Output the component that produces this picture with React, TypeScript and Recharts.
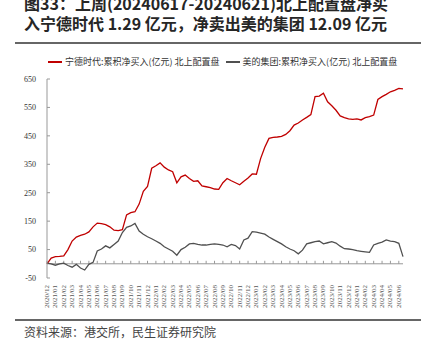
import { LineChart, Line, XAxis, YAxis, Legend, ReferenceLine } from "recharts";

// month tick labels on the x axis
const months = [
  "2020/12", "2021/01", "2021/02", "2021/03", "2021/04", "2021/05", "2021/06",
  "2021/07", "2021/08", "2021/09", "2021/10", "2021/11", "2021/12", "2022/01",
  "2022/02", "2022/03", "2022/04", "2022/05", "2022/06", "2022/07", "2022/08",
  "2022/09", "2022/10", "2022/11", "2022/12", "2023/01", "2023/02", "2023/03",
  "2023/04", "2023/05", "2023/06", "2023/07", "2023/08", "2023/09", "2023/10",
  "2023/11", "2023/12", "2024/01", "2024/02", "2024/03", "2024/04", "2024/05",
  "2024/06",
];

// half-month samples (亿元)
const catl = [
  0, 20, 25, 26, 28, 50, 80, 94, 100, 104,
  112, 130, 143, 141, 138, 130, 118, 117, 120, 172,
  180, 183, 210, 255, 272, 336, 345, 355, 340, 330,
  324, 285, 306, 312, 300, 290, 292, 274, 271, 268,
  263, 262, 285, 300, 292, 285, 278, 290, 302, 316,
  315, 370, 410, 441, 445, 446, 448, 455, 468, 488,
  495, 506, 515, 525, 588, 590, 600, 570, 556, 540,
  520, 514, 510, 508, 510, 506, 514, 518, 523, 578,
  588, 596, 605, 610, 617, 615,
];

const midea = [
  2, 0, -5, 0, 2, -6, -12, -2, -15, -22,
  -2, 5, 45, 52, 63, 56, 68, 80, 110, 128,
  133, 142, 115, 104, 95, 88, 80, 72, 60, 52,
  44, 30, 50, 58, 70, 72, 68, 66, 66, 68,
  70, 68, 66, 60, 68, 64, 52, 84, 90, 113,
  111, 108, 104, 94, 86, 78, 70, 60, 52, 46,
  35, 48, 70, 74, 78, 80, 70, 74, 78, 73,
  62, 53, 52, 50, 46, 44, 42, 40, 66, 72,
  76, 84, 80, 78, 72, 25,
];

const yTicks = [-50, 50, 150, 250, 350, 450, 550, 650];

const series = [
  { key: "catl", name: "宁德时代:累积净买入(亿元) 北上配置盘", color: "#C00000" },
  { key: "midea", name: "美的集团:累积净买入(亿元) 北上配置盘", color: "#505050" },
];

const data = catl.map((v, i) => ({ t: i / 2, catl: v, midea: midea[i] }));
const lastT = (catl.length - 1) / 2;

const cjk = '"Noto Sans CJK SC", sans-serif';
const serif = '"Liberation Serif", "DejaVu Serif", serif';

const MonthTick = ({ x, y, payload }: any) => (
  <text
    x={x}
    y={y}
    transform={`rotate(-90, ${x}, ${y})`}
    textAnchor="end"
    dominantBaseline="central"
    fontSize={7}
    fontFamily={serif}
    fill="#555"
  >
    {months[payload.value]}
  </text>
);

// zero line with small inward ticks at each month
const ZeroAxis = (props: any) => {
  const { x1, x2, y1 } = props;
  const step = (x2 - x1) / lastT;
  return (
    <g>
      <line x1={x1} x2={x2} y1={y1} y2={y1} stroke="#999" strokeWidth={1} />
      {months.map((m, i) => (
        <line
          key={m}
          x1={x1 + i * step}
          x2={x1 + i * step}
          y1={y1}
          y2={y1 - 3}
          stroke="#999"
          strokeWidth={1}
        />
      ))}
    </g>
  );
};

const renderLegend = () => (
  <div
    style={{
      display: "flex",
      alignItems: "center",
      fontSize: 9,
      fontFamily: cjk,
      color: "#333",
      whiteSpace: "nowrap",
    }}
  >
    {series.map((s) => (
      <span key={s.key} style={{ display: "flex", alignItems: "center", marginRight: 6 }}>
        <span
          style={{
            display: "inline-block",
            width: 14,
            height: 2,
            background: s.color,
            marginRight: 3,
          }}
        />
        {s.name}
      </span>
    ))}
  </div>
);

export default function App() {
  return (
    <div
      style={{
        position: "absolute",
        left: 0,
        top: 0,
        width: 426,
        height: 357,
        background: "#fff",
        overflow: "hidden",
      }}
    >
      <div
        style={{
          position: "absolute",
          left: 24,
          top: -7,
          fontFamily: cjk,
          fontWeight: 700,
          fontSize: 16,
          lineHeight: "20px",
          color: "#262626",
          whiteSpace: "nowrap",
        }}
      >
        <div>图33：上周(20240617-20240621)北上配置盘净买</div>
        <div>入宁德时代 1.29 亿元，净卖出美的集团 12.09 亿元</div>
      </div>
      <div style={{ position: "absolute", left: 15, top: 42, width: 406, height: 2, background: "#666" }} />

      <div style={{ position: "absolute", left: 0, top: 0 }}>
        <LineChart
          width={426}
          height={357}
          data={data}
          margin={{ top: 79, right: 23, bottom: 49, left: 17 }}
        >
          <XAxis
            dataKey="t"
            type="number"
            domain={[0, lastT]}
            ticks={months.map((_, i) => i)}
            interval={0}
            axisLine={false}
            tickLine={false}
            tickSize={0}
            tickMargin={7}
            height={30}
            tick={<MonthTick />}
          />
          <YAxis
            domain={[-50, 650]}
            ticks={yTicks}
            interval={0}
            width={30}
            axisLine={{ stroke: "#999" }}
            tickLine={{ stroke: "#999" }}
            tickSize={-3}
            tickMargin={14}
            tick={{ fontSize: 8, fontFamily: serif, fill: "#333" }}
          />
          <ReferenceLine y={0} shape={<ZeroAxis />} />
          <Legend
            verticalAlign="middle"
            align="center"
            content={renderLegend}
            wrapperStyle={{ top: 55, left: 48, width: "auto" }}
          />
          {series.map((s) => (
            <Line
              key={s.key}
              type="linear"
              dataKey={s.key}
              name={s.name}
              stroke={s.color}
              strokeWidth={1.3}
              dot={false}
              isAnimationActive={false}
            />
          ))}
        </LineChart>
      </div>

      <div style={{ position: "absolute", left: 15, top: 319, width: 406, height: 2, background: "#666" }} />
      <div
        style={{
          position: "absolute",
          left: 24,
          top: 324,
          fontFamily: cjk,
          fontSize: 12,
          lineHeight: "16px",
          color: "#444",
          whiteSpace: "nowrap",
        }}
      >
        资料来源：港交所，民生证券研究院
      </div>
    </div>
  );
}
